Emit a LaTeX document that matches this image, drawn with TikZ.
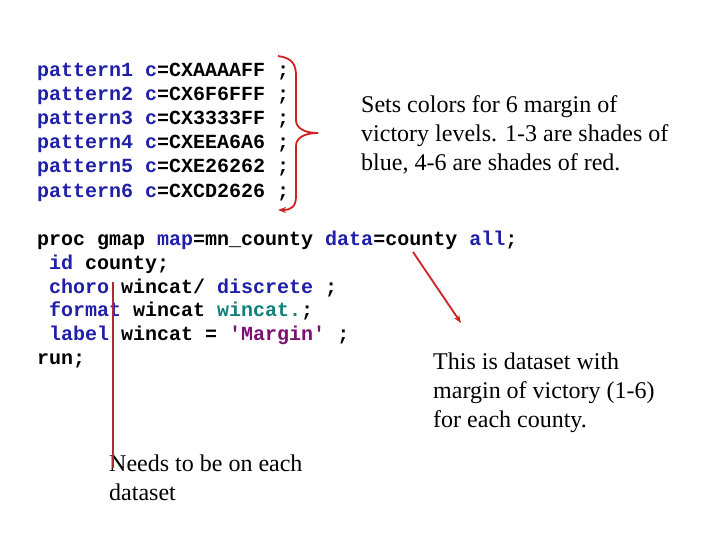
\documentclass[tikz,border=0pt]{standalone}
\usepackage{fontspec}
\setmainfont{Liberation Serif}
\newfontfamily\codefont{Liberation Mono}
\usepackage{tikz}
\usetikzlibrary{arrows.meta}
\definecolor{kwblue}{HTML}{1F1FA8}
\definecolor{fmtteal}{HTML}{10807A}
\definecolor{strpurple}{HTML}{7A1070}
\definecolor{bracered}{HTML}{D02020}
\definecolor{linered}{HTML}{B02838}
\tikzset{
  code/.style={anchor=base west,inner sep=0pt,font=\codefont\bfseries\fontsize{20}{24}\selectfont},
  note/.style={anchor=north west,inner sep=0pt,align=left,font=\fontsize{24}{29}\selectfont},
  pointer/.style={line width=1.8pt},
}
\newcommand{\kw}[1]{\textcolor{kwblue}{#1}}
\begin{document}
\begin{tikzpicture}[x=1pt,y=-1pt]
    \useasboundingbox (0,0) rectangle (720,540);

    % color patterns
    \foreach \i/\hex [count=\k] in {1/AAAAFF,2/6F6FFF,3/3333FF,4/EEA6A6,5/E26262,6/CD2626}
        \node[code] (pat\i) at (37,{53+24*\k}) {\kw{pattern\i} \kw{c}=CX\hex\ ;};

    % brace
    \coordinate (btop) at (278,56);
    \coordinate (bend) at (278,210);
    \draw[bracered,pointer,-{Stealth[length=8pt]}] (btop) .. controls (292,58) and (296,64) .. (296,76)
        -- (296,120) .. controls (296,128) and (304,133) .. (318,133)
        .. controls (304,133) and (296,138) .. (296,146)
        -- (296,196) .. controls (296,206) and (292,210) .. (bend);

    \node[note] (sets) at (361,95) {Sets colors for 6 margin of\\victory levels. 1-3 are shades of\\blue, 4-6 are shades of red.};

    % gmap code
    \node[code] (proc) at (37,245) {proc gmap \kw{map}=mn\_county \kw{data}=county \kw{all};};
    \node[code] (id) at (37,269) {\ \kw{id} county;};
    \node[code] (choro) at (37,293) {\ \kw{choro} wincat/ \kw{discrete} ;};
    \node[code] (fmt) at (37,316) {\ \kw{format} wincat \textcolor{fmtteal}{wincat.};};
    \node[code] (lbl) at (37,340) {\ \kw{label} wincat = \textcolor{strpurple}{'Margin'} ;};
    \node[code] (run) at (37,364) {run;};

    \node[note] (dsnote) at (433,353) {This is dataset with\\margin of victory (1-6)\\for each county.};
    \node[note] (needs) at (109,455) {Needs to be on each\\dataset};

    % pointers
    \coordinate (dstail) at (413,252);
    \coordinate (dshead) at (461,323);
    \draw[bracered,pointer,-{Stealth[length=8pt]}] (dstail) -- (dshead);
    \coordinate (vtop) at (113,282);
    \coordinate (vbot) at (113,468);
    \draw[linered,pointer] (vtop) -- (vbot);
\end{tikzpicture}
\end{document}
